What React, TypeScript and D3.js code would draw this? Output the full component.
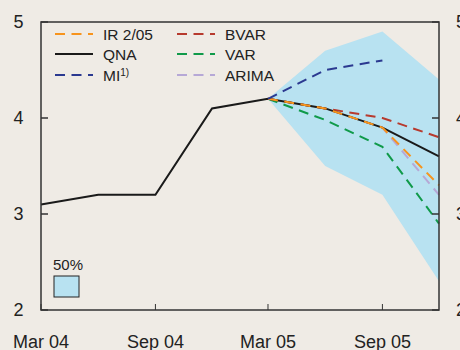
import React from "react";
import * as d3 from "d3";

const quarters = ["2004-03", "2004-06", "2004-09", "2004-12", "2005-03", "2005-06", "2005-09", "2005-12"];
const qnaValues = [3.1, 3.2, 3.2, 4.1, 4.2, 4.1, 3.9, 3.6];
const bandUpper = [null, null, null, null, 4.2, 4.7, 4.9, 4.4];
const bandLower = [null, null, null, null, 4.2, 3.5, 3.2, 2.3];
const irValues = [null, null, null, null, 4.2, 4.1, 3.9, 3.3];
const miValues = [null, null, null, null, 4.2, 4.5, 4.6, null];
const bvarValues = [null, null, null, null, 4.2, 4.1, 4.0, 3.8];
const varValues = [null, null, null, null, 4.2, 3.98, 3.7, 2.9];
const arimaValues = [null, null, null, null, 4.2, 4.1, 3.9, 3.2];
const yTicks = [2, 3, 4, 5];
const xTickDates = ["2004-03", "2004-09", "2005-03", "2005-09"];
const xTickLabels = ["Mar 04", "Sep 04", "Mar 05", "Sep 05"];

const parse = d3.timeParse("%Y-%m");
const dates = quarters.map((q) => parse(q) as Date);

const L = 41, R = 439, T = 22, B = 310;
const x = d3.scaleTime().domain([dates[0], dates[dates.length - 1]]).range([L, R]);
const y = d3.scaleLinear().domain([2, 5]).range([B, T]);

type V = number | null;
const lineGen = d3
  .line<[Date, V]>()
  .defined((d) => d[1] !== null)
  .x((d) => x(d[0]))
  .y((d) => y(d[1] as number));
const path = (vals: V[]) => lineGen(dates.map((d, i) => [d, vals[i]] as [Date, V])) || "";

const area = d3
  .area<number>()
  .defined((i) => bandUpper[i] !== null)
  .x((i) => x(dates[i]))
  .y0((i) => y(bandLower[i] as number))
  .y1((i) => y(bandUpper[i] as number));

const C = {
  bg: "#efebe5",
  band: "#b8e2f1",
  frame: "#333",
  ir: "#f7941d",
  qna: "#1a1a1a",
  mi: "#2b3990",
  bvar: "#b73a2e",
  var: "#109a4a",
  arima: "#b6a8d6",
};

const font = "'Liberation Sans', Arial, sans-serif";
const dash = "10,6.5";

export default function App() {
  const legend1 = [
    { label: "IR 2/05", color: C.ir, dashed: true },
    { label: "QNA", color: C.qna, dashed: false },
    { label: "MI", color: C.mi, dashed: true, sup: "1)" },
  ];
  const legend2 = [
    { label: "BVAR", color: C.bvar, dashed: true },
    { label: "VAR", color: C.var, dashed: true },
    { label: "ARIMA", color: C.arima, dashed: true },
  ];
  const rowY = [34, 54, 75];
  return (
    <svg
      width={460}
      height={350}
      style={{ position: "absolute", left: 0, top: 0, background: C.bg }}
      fontFamily={font}
    >
      <rect x={0} y={0} width={460} height={350} fill={C.bg} />
      <path d={area(d3.range(dates.length)) || ""} fill={C.band} />
      <path d={path(arimaValues)} fill="none" stroke={C.arima} strokeWidth={2} strokeDasharray={dash} />
      <path d={path(bvarValues)} fill="none" stroke={C.bvar} strokeWidth={2} strokeDasharray={dash} />
      <path d={path(varValues)} fill="none" stroke={C.var} strokeWidth={2} strokeDasharray={dash} />
      <path d={path(qnaValues)} fill="none" stroke={C.qna} strokeWidth={2} />
      <path d={path(irValues)} fill="none" stroke={C.ir} strokeWidth={2} strokeDasharray={dash} />
      <path d={path(miValues)} fill="none" stroke={C.mi} strokeWidth={2} strokeDasharray={dash} />

      <rect x={L} y={T} width={R - L} height={B - T} fill="none" stroke={C.frame} strokeWidth={1.5} />
      {yTicks.map((t) => (
        <g key={t}>
          <line x1={L} x2={L + 7} y1={y(t)} y2={y(t)} stroke={C.frame} strokeWidth={1.5} />
          <line x1={R - 7} x2={R} y1={y(t)} y2={y(t)} stroke={C.frame} strokeWidth={1.5} />
          <text x={23.5} y={y(t)} dy="0.36em" textAnchor="end" fontSize={18} fill="#222">
            {t}
          </text>
          <text x={456} y={y(t)} dy="0.36em" textAnchor="start" fontSize={18} fill="#222">
            {t}
          </text>
        </g>
      ))}
      {xTickDates.map((d, i) => {
        const xx = x(parse(d) as Date);
        return (
          <g key={d}>
            <line x1={xx} x2={xx} y1={B} y2={B - 6} stroke={C.frame} strokeWidth={1} />
            <text x={xx} y={348} textAnchor="middle" fontSize={18} fill="#222">
              {xTickLabels[i]}
            </text>
          </g>
        );
      })}

      {legend1.map((d, i) => (
        <g key={d.label}>
          <line x1={55} x2={93} y1={rowY[i]} y2={rowY[i]} stroke={d.color} strokeWidth={2} strokeDasharray={d.dashed ? dash : undefined} />
          <text x={103} y={rowY[i]} dy="0.36em" fontSize={15.5} fill="#222">
            {d.label}
            {d.sup ? (
              <tspan fontSize={10} dy="-0.5em">
                {d.sup}
              </tspan>
            ) : null}
          </text>
        </g>
      ))}
      {legend2.map((d, i) => (
        <g key={d.label}>
          <line x1={177} x2={215} y1={rowY[i]} y2={rowY[i]} stroke={d.color} strokeWidth={2} strokeDasharray={dash} />
          <text x={225} y={rowY[i]} dy="0.36em" fontSize={15.5} fill="#222">
            {d.label}
          </text>
        </g>
      ))}
      <text x={53} y={270} fontSize={15} fill="#222">50%</text>
      <rect x={54} y={276} width={25} height={21} fill={C.band} stroke="#222" strokeWidth={1} />
    </svg>
  );
}
